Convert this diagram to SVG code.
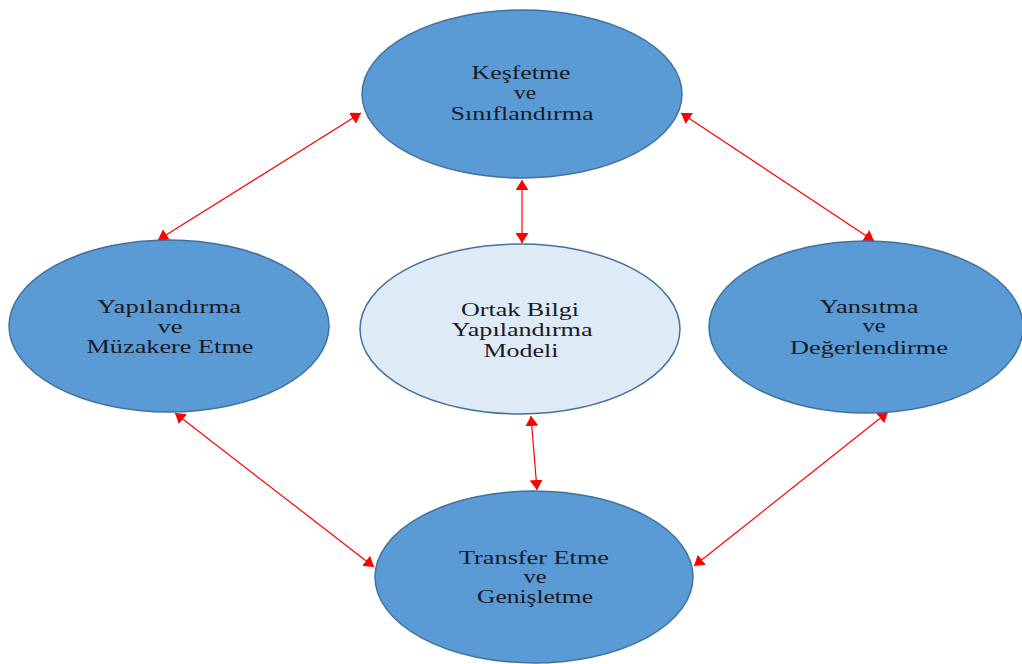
<svg xmlns="http://www.w3.org/2000/svg" width="1022" height="664" viewBox="0 0 1022 664">
<defs>
<marker id="ah" viewBox="0 0 10 13" refX="10" refY="6.5" markerWidth="10" markerHeight="13" markerUnits="userSpaceOnUse" orient="auto-start-reverse">
<path d="M0,0 L10,6.5 L0,13 z" fill="#ff0000"/>
</marker>
<style>
.n{fill:#5b9bd5;stroke:#41719c;stroke-width:1.5}
.c{fill:#deebf7;stroke:#41719c;stroke-width:1.5}
.t{font-family:"Liberation Serif","Times New Roman",serif;font-size:18px;fill:#1a1a24;text-anchor:middle}
.e{stroke:#ff0000;stroke-width:1.2;fill:none;marker-start:url(#ah);marker-end:url(#ah)}
</style>
</defs>
<rect width="1022" height="664" fill="#ffffff"/>
<g id="connectors">
<line class="e" x1="522" y1="180" x2="522" y2="243"/>
<line class="e" x1="531" y1="416" x2="537" y2="490"/>
<line class="e" x1="361" y1="113" x2="158" y2="240"/>
<line class="e" x1="681" y1="113" x2="874" y2="241"/>
<line class="e" x1="175" y1="413" x2="374" y2="567"/>
<line class="e" x1="888" y1="412" x2="694" y2="566"/>
</g>
<g id="kesfetme">
<ellipse class="n" cx="522" cy="94" rx="160" ry="84"/>
<text class="t" x="521" y="79" textLength="99" lengthAdjust="spacingAndGlyphs">Keşfetme</text>
<text class="t" x="525" y="99" textLength="22" lengthAdjust="spacingAndGlyphs">ve</text>
<text class="t" x="522" y="120" textLength="143" lengthAdjust="spacingAndGlyphs">Sınıflandırma</text>
</g>
<g id="ortak">
<ellipse class="c" cx="520" cy="329" rx="160" ry="85"/>
<text class="t" x="520" y="316" textLength="118" lengthAdjust="spacingAndGlyphs">Ortak Bilgi</text>
<text class="t" x="522" y="336" textLength="141" lengthAdjust="spacingAndGlyphs">Yapılandırma</text>
<text class="t" x="521" y="357" textLength="75" lengthAdjust="spacingAndGlyphs">Modeli</text>
</g>
<g id="yapilandirma">
<ellipse class="n" cx="169" cy="326" rx="160" ry="86"/>
<text class="t" x="169" y="313" textLength="144" lengthAdjust="spacingAndGlyphs">Yapılandırma</text>
<text class="t" x="170" y="333" textLength="25" lengthAdjust="spacingAndGlyphs">ve</text>
<text class="t" x="170" y="353" textLength="167" lengthAdjust="spacingAndGlyphs">Müzakere Etme</text>
</g>
<g id="yansitma">
<ellipse class="n" cx="866" cy="327" rx="157" ry="86"/>
<text class="t" x="869" y="313" textLength="99" lengthAdjust="spacingAndGlyphs">Yansıtma</text>
<text class="t" x="874" y="332" textLength="23" lengthAdjust="spacingAndGlyphs">ve</text>
<text class="t" x="869" y="354" textLength="158" lengthAdjust="spacingAndGlyphs">Değerlendirme</text>
</g>
<g id="transfer">
<ellipse class="n" cx="534" cy="577" rx="159" ry="86"/>
<text class="t" x="534" y="564" textLength="150" lengthAdjust="spacingAndGlyphs">Transfer Etme</text>
<text class="t" x="535" y="583" textLength="23" lengthAdjust="spacingAndGlyphs">ve</text>
<text class="t" x="535" y="603" textLength="116" lengthAdjust="spacingAndGlyphs">Genişletme</text>
</g>
</svg>
